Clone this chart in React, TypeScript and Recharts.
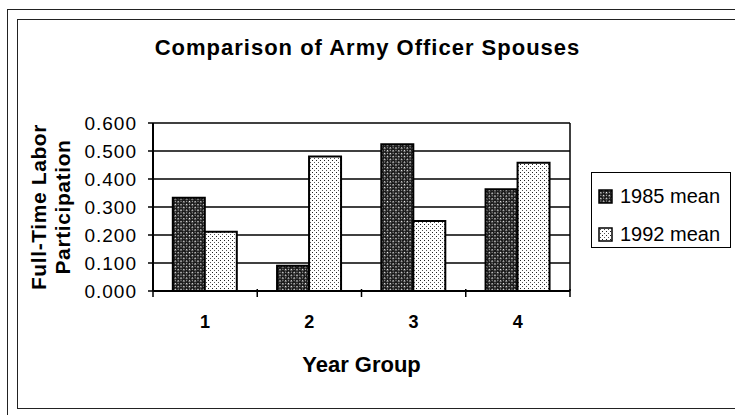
import { BarChart, Bar, XAxis, YAxis, CartesianGrid, Legend } from "recharts";

const yearGroups = ["1", "2", "3", "4"];
const mean1985 = [0.333, 0.09, 0.524, 0.363];
const mean1992 = [0.212, 0.48, 0.25, 0.458];
const yTicks = [0, 0.1, 0.2, 0.3, 0.4, 0.5, 0.6];

const data = yearGroups.map((g, i) => ({
  group: g,
  m85: mean1985[i],
  m92: mean1992[i],
}));

const FONT = "'Liberation Sans', Arial, sans-serif";
const X_TICK_GAP = 24;

// label at the band centre, tick marks on the band edges (Excel style)
const GroupTick = ({ x, y, payload, index, visibleTicksCount }: any) => {
  const half = payload.offset || 0;
  const axisY = y - X_TICK_GAP;
  const last = index === visibleTicksCount - 1;
  return (
    <g>
      <line x1={x - half} x2={x - half} y1={axisY - 2} y2={axisY + 6} stroke="#000" strokeWidth={1.5} />
      {last && <line x1={x + half} x2={x + half} y1={axisY - 2} y2={axisY + 6} stroke="#000" strokeWidth={1.5} />}
      <text x={x} y={y} dy="0.71em" textAnchor="middle" fontFamily={FONT} fontSize={18} fontWeight="bold" fill="#000">
        {payload.value}
      </text>
    </g>
  );
};

const YLabel = ({ viewBox }: any) => {
  const cy = viewBox.y + viewBox.height / 2;
  const x1 = viewBox.x + 20;
  const x2 = viewBox.x + 44;
  return (
    <g fontFamily={FONT} fontSize={21} fontWeight="bold" fill="#000" letterSpacing={0.6}>
      <text x={x1} y={cy} textAnchor="middle" dominantBaseline="central" transform={`rotate(-90 ${x1} ${cy})`}>
        Full-Time Labor
      </text>
      <text x={x2} y={cy} textAnchor="middle" dominantBaseline="central" transform={`rotate(-90 ${x2} ${cy})`}>
        Participation
      </text>
    </g>
  );
};

const XLabel = ({ viewBox }: any) => (
  <text
    x={viewBox.x + viewBox.width / 2}
    y={viewBox.y + 81}
    textAnchor="middle"
    fontFamily={FONT}
    fontSize={22}
    fontWeight="bold"
    fill="#000"
  >
    Year Group
  </text>
);

const LegendBox = ({ payload }: any) => (
  <div
    style={{
      border: "1.5px solid #000",
      boxSizing: "border-box",
      width: 140,
      height: 76,
      padding: "8px 0 0 6px",
      fontFamily: FONT,
      fontSize: 20,
      background: "#fff",
    }}
  >
    {(payload || []).map((p: any) => (
      <div key={p.value} style={{ display: "flex", alignItems: "center", height: 30, marginBottom: 8 }}>
        <svg width={15} height={15} style={{ marginRight: 7 }}>
          <rect x={1} y={1} width={13} height={13} fill={p.color} stroke="#000" strokeWidth={1.5} />
        </svg>
        <span>{p.value}</span>
      </div>
    ))}
  </div>
);

export default function App() {
  return (
    <div style={{ position: "absolute", left: 0, top: 0, width: 735, height: 415, overflow: "hidden", background: "#fff" }}>
      <div style={{ position: "absolute", left: 7, top: 9, width: 760, height: 440, borderTop: "1.5px solid #222", borderLeft: "1.5px solid #222" }} />
      <div style={{ position: "absolute", left: 17, top: 19, width: 760, height: 388, borderTop: "1.5px solid #222", borderLeft: "1.5px solid #222", borderBottom: "1.5px solid #222" }} />
      <div
        style={{
          position: "absolute",
          left: 0,
          top: 36,
          width: 735,
          textAlign: "center",
          fontFamily: FONT,
          fontSize: 22,
          fontWeight: "bold",
          letterSpacing: 1,
          lineHeight: "24px",
        }}
      >
        Comparison of Army Officer Spouses
      </div>
      <div style={{ position: "absolute", left: 0, top: 0 }}>
        <BarChart
          width={735}
          height={415}
          data={data}
          margin={{ top: 123, right: 165, bottom: 34, left: 18 }}
          barCategoryGap="19%"
          barGap={0}
        >
          <defs>
            <pattern id="p85" width="4" height="4" patternUnits="userSpaceOnUse" patternTransform="rotate(45)">
              <rect width="4" height="4" fill="#1a1a1a" />
              <rect x="0" y="0" width="1.4" height="1.4" fill="#fff" />
              <rect x="2" y="2" width="1" height="1" fill="#bbb" />
            </pattern>
            <pattern id="p92" width="4" height="4" patternUnits="userSpaceOnUse">
              <rect width="4" height="4" fill="#fff" />
              <rect x="0" y="0" width="1" height="1" fill="#222" />
              <rect x="2" y="2" width="1" height="1" fill="#555" />
            </pattern>
          </defs>
          <CartesianGrid
            horizontal
            vertical
            stroke="#000"
            strokeWidth={1.5}
            verticalCoordinatesGenerator={({ offset }: any) => [offset.left + offset.width]}
          />
          <XAxis
            dataKey="group"
            height={90}
            interval={0}
            axisLine={{ stroke: "#000", strokeWidth: 2 }}
            tickLine={false}
            tickSize={0}
            tickMargin={X_TICK_GAP}
            tick={<GroupTick />}
            label={<XLabel />}
          />
          <YAxis
            width={135}
            domain={[0, 0.6]}
            ticks={yTicks}
            interval={0}
            tickFormatter={(v: number) => v.toFixed(3)}
            axisLine={{ stroke: "#000", strokeWidth: 2 }}
            tickLine={{ stroke: "#000", strokeWidth: 1.5 }}
            tickSize={5}
            tickMargin={11}
            tick={{ fill: "#000", fontSize: 19, fontFamily: FONT, letterSpacing: 1 }}
            label={<YLabel />}
          />
          <Legend
            layout="vertical"
            align="center"
            verticalAlign="middle"
            wrapperStyle={{ left: 591, top: 172, width: 140, height: 76 }}
            content={<LegendBox />}
          />
          <Bar dataKey="m85" name="1985 mean" fill="url(#p85)" stroke="#000" strokeWidth={2} isAnimationActive={false} />
          <Bar dataKey="m92" name="1992 mean" fill="url(#p92)" stroke="#000" strokeWidth={2} isAnimationActive={false} />
        </BarChart>
      </div>
    </div>
  );
}
